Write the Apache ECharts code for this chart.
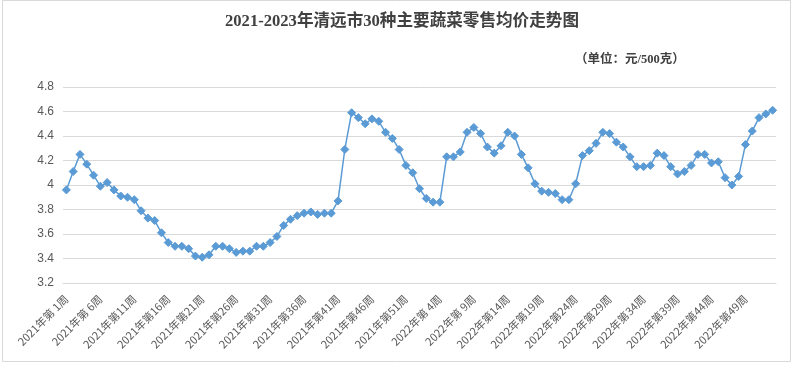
<!DOCTYPE html>
<html>
<head>
<meta charset="utf-8">
<script src="https://cdn.jsdelivr.net/npm/echarts@6/dist/echarts.min.js"></script>
<style>
html,body{margin:0;padding:0;background:#fff;}
#chart{width:793px;height:366px;}
</style>
</head>
<body>
<div id="chart"></div>
<script>
// Week categories: 2021 weeks 1-52, 2022 weeks 1-52, 2023 week 1
const years = [2021, 2022, 2023];
const weeksPerYear = [52, 52, 1];
const categories = [];
years.forEach(function (y, i) {
  for (let w = 1; w <= weeksPerYear[i]; w++) {
    categories.push(y + '年第' + (w < 10 ? ' ' + w : w) + '周');
  }
});

// Average retail price (元/500克)
const prices2021 = [
  3.96, 4.11, 4.25, 4.17, 4.08, 3.99, 4.02, 3.96, 3.91, 3.90,
  3.88, 3.79, 3.73, 3.71, 3.61, 3.53, 3.50, 3.50, 3.48, 3.42,
  3.41, 3.43, 3.50, 3.50, 3.48, 3.45, 3.46, 3.46, 3.50, 3.50,
  3.53, 3.58, 3.67, 3.72, 3.75, 3.77, 3.78, 3.76, 3.77, 3.77,
  3.87, 4.29, 4.59, 4.55, 4.50, 4.54, 4.52, 4.43, 4.38, 4.29,
  4.16, 4.10
];
const prices2022 = [
  3.97, 3.89, 3.86, 3.86, 4.23, 4.23, 4.27, 4.43, 4.47, 4.42,
  4.31, 4.26, 4.32, 4.43, 4.40, 4.25, 4.14, 4.01, 3.95, 3.94,
  3.93, 3.88, 3.88, 4.01, 4.24, 4.28, 4.34, 4.43, 4.42, 4.35,
  4.31, 4.23, 4.15, 4.15, 4.16, 4.26, 4.24, 4.15, 4.09, 4.11,
  4.16, 4.25, 4.25, 4.18, 4.19, 4.06, 4.00, 4.07, 4.33, 4.44,
  4.55, 4.58
];
const prices2023 = [4.61];
const prices = prices2021.concat(prices2022, prices2023);

// Y axis ticks
const yMin = 3.2, yMax = 4.8, yStep = 0.2;

const titleText = '2021-2023年清远市30种主要蔬菜零售均价走势图';
const unitText = '（单位：元/500克）';

const chart = echarts.init(document.getElementById('chart'), null, {renderer: 'canvas'});
chart.setOption({
  backgroundColor: '#ffffff',
  animation: false,
  title: [{
    text: titleText,
    left: 397, top: 8, textAlign: 'center',
    textStyle: {fontFamily: '"Liberation Serif","Noto Sans CJK SC",serif', fontSize: 16.6, fontWeight: 'bold', color: '#404040'}
  }, {
    text: unitText,
    left: 570, top: 49,
    textStyle: {fontFamily: '"Liberation Serif","Noto Sans CJK SC",serif', fontSize: 12.5, fontWeight: 'bold', color: '#404040'}
  }],
  graphic: [{
    type: 'rect', silent: true,
    shape: {x: 2.5, y: 0.5, width: 788, height: 361},
    style: {fill: 'none', stroke: '#d9d9d9', lineWidth: 1}
  }],
  grid: {left: 63, right: 17, top: 87, bottom: 83, containLabel: false},
  xAxis: {
    type: 'category',
    data: categories,
    boundaryGap: true,
    axisLine: {show: true, lineStyle: {color: '#d9d9d9', width: 1}},
    axisTick: {show: false},
    axisLabel: {
      interval: 4, rotate: 45, margin: 14,
      color: '#595959', fontSize: 11,
      fontFamily: '"Noto Sans CJK SC","Liberation Sans",sans-serif'
    },
    splitLine: {show: false}
  },
  yAxis: {
    type: 'value',
    min: yMin, max: yMax, interval: yStep,
    axisLine: {show: false},
    axisTick: {show: false},
    axisLabel: {
      margin: 9, color: '#595959', fontSize: 12,
      fontFamily: '"Liberation Sans","Noto Sans",sans-serif',
      formatter: function (v) { return String(Math.round(v * 10) / 10); }
    },
    splitLine: {lineStyle: {color: '#d9d9d9', width: 1}}
  },
  series: [{
    type: 'line',
    data: prices,
    symbol: 'diamond',
    symbolSize: 8,
    showAllSymbol: true,
    lineStyle: {color: '#5b9bd5', width: 1.5},
    itemStyle: {color: '#5b9bd5', borderColor: '#5b9bd5'}
  }]
});
</script>
</body>
</html>
